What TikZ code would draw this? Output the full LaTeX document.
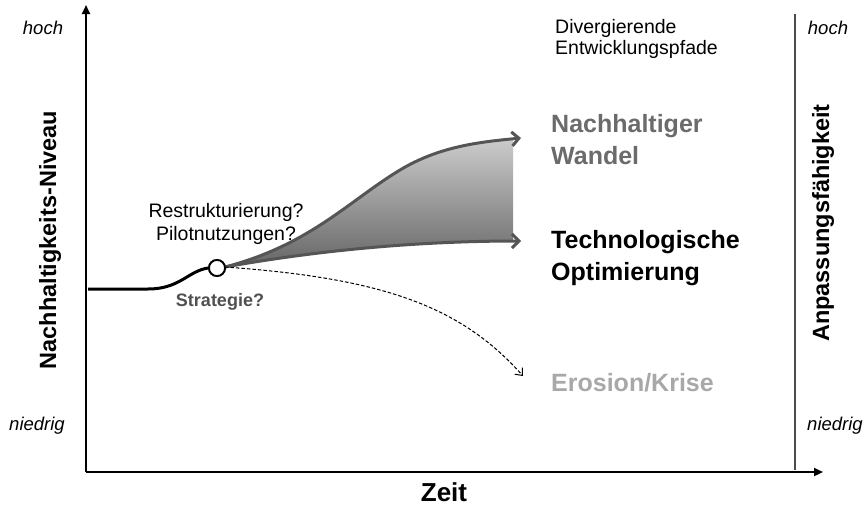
\documentclass[tikz,border=0pt]{standalone}
\usepackage{fontspec}
\setmainfont{Liberation Sans}
\usetikzlibrary{arrows.meta}
\definecolor{pathgray}{HTML}{555555}
\definecolor{wandelgray}{HTML}{6B6B6B}
\definecolor{krisegray}{HTML}{A8A8A8}
\definecolor{strategiegray}{HTML}{505050}
\begin{document}
\begin{tikzpicture}[x=1pt,y=-1pt,
  axis/.style={line width=2.2pt,-{Triangle[length=9pt,width=8pt]}},
  pathline/.style={pathgray,line width=3pt,line cap=round,-{Straight Barb[length=7pt,width=14pt]}},
  dashline/.style={black,line width=1pt,dash pattern=on 3.5pt off 2pt,-{Straight Barb[length=6pt,width=10pt]}},
  scale label/.style={font=\itshape\fontsize{18.5}{21}\selectfont,inner sep=0pt},
  axis title/.style={font=\bfseries\fontsize{23.5}{26}\selectfont,inner sep=0pt},
  outcome/.style={anchor=west,align=left,font=\bfseries\fontsize{25}{32}\selectfont,inner sep=0pt},
  note/.style={align=center,font=\fontsize{19.5}{23}\selectfont,inner sep=0pt}]
\useasboundingbox (0,0) rectangle (867,506);

% axes
\coordinate (O) at (86,472);
\coordinate (ytip) at (86,5);
\coordinate (xtip) at (823,472);
\draw[axis] (O) -- (ytip);
\draw[axis] (O) -- (xtip);
\coordinate (rtop) at (795,14);
\coordinate (rbot) at (795,470);
\draw[gray!60!black,line width=1.5pt] (rtop) -- (rbot);

% scale labels
\node[scale label] (hochL) at (43,28) {hoch};
\node[scale label] (niedrigL) at (37,426) {niedrig};
\node[scale label] (hochR) at (828,28) {hoch};
\node[scale label] (niedrigR) at (835,426) {niedrig};

% axis titles
\node[axis title,rotate=90] (ylab) at (50,240) {Nachhaltigkeits-Niveau};
\node[axis title,rotate=90] (rlab) at (823,223) {Anpassungsfähigkeit};
\node[axis title,font=\bfseries\fontsize{26}{28}\selectfont] (xlab) at (444,492) {Zeit};

% heading
\node[anchor=west,align=left,inner sep=0pt,font=\fontsize{19.5}{21}\selectfont] (head) at (555,39) {Divergierende\\Entwicklungspfade};

% path points
\coordinate (s) at (88,289);
\node[circle,draw,line width=1.8pt,fill=white,minimum size=16pt,inner sep=0pt] (c) at (217,268) {};
\coordinate (p0) at (225,267);
\coordinate (u) at (521,138);
\coordinate (m) at (521,241);
\coordinate (d) at (523,376);

% shaded corridor
\begin{scope}
\clip (0,0) rectangle (513,506);
\shade[top color=gray!40,bottom color=gray!80!black] (p0) .. controls (310,245) and (350,200) .. (400,170) .. controls (440,146) and (480,142) .. (u) -- (m) .. controls (420,241) and (320,250) .. (p0) -- cycle;
\end{scope}

% history
\draw[black,line width=3pt] (s) -- (148,289) .. controls (180,289) and (188,271) .. (c.west);

% paths
\draw[pathline] (p0) .. controls (310,245) and (350,200) .. (400,170) .. controls (440,146) and (480,142) .. (u);
\draw[pathline] (p0) .. controls (320,250) and (420,241) .. (m);
\draw[dashline] (p0) .. controls (380,278) and (460,305) .. (d);
\node[circle,draw,line width=1.8pt,fill=white,minimum size=16pt,inner sep=0pt] at (c) {};

% outcome labels
\node[outcome,wandelgray] (wandel) at (551,140) {Nachhaltiger\\Wandel};
\node[outcome,black] (techno) at (551,258) {Technologische\\Optimierung};
\node[outcome,krisegray] (krise) at (551,383) {Erosion/Krise};

% notes
\node[note] (restr) at (226,224) {Restrukturierung?\\Pilotnutzungen?};
\node[strategiegray,inner sep=0pt,font=\bfseries\fontsize{18}{20}\selectfont] (strat) at (220,302) {Strategie?};
\end{tikzpicture}
\end{document}
